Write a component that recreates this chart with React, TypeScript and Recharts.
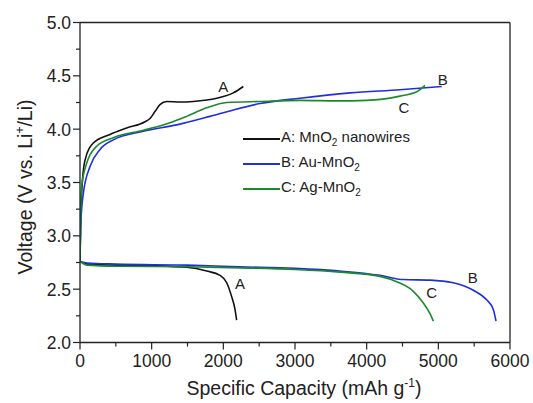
import { LineChart, Line, XAxis, YAxis, ReferenceLine, ReferenceDot } from "recharts";

// charge curves (upper branch)
const chargeCapA = [0, 10, 23, 70, 186, 419, 651, 907, 977, 1046, 1116, 1209, 1400, 1581, 1907, 2139, 2279];
const chargeVoltA = [2.76, 3.15, 3.4, 3.71, 3.87, 3.95, 4.01, 4.07, 4.1, 4.165, 4.23, 4.26, 4.255, 4.26, 4.29, 4.34, 4.4];
const chargeCapB = [0, 10, 47, 140, 279, 465, 884, 1349, 1814, 2139, 2512, 3070, 3767, 4465, 5047];
const chargeVoltB = [2.76, 3.1, 3.4, 3.65, 3.81, 3.9, 3.98, 4.04, 4.12, 4.18, 4.24, 4.29, 4.34, 4.37, 4.4];
const chargeCapC = [0, 8, 23, 93, 233, 465, 884, 1256, 1488, 1768, 2047, 2512, 3070, 3582, 4000, 4465, 4698, 4814];
const chargeVoltC = [2.76, 3.15, 3.46, 3.68, 3.84, 3.92, 3.99, 4.06, 4.12, 4.2, 4.25, 4.26, 4.27, 4.265, 4.27, 4.31, 4.35, 4.41];

// discharge curves (lower branch)
const dischCapA = [0, 100, 500, 1000, 1488, 1768, 1953, 2047, 2116, 2160, 2186];
const dischVoltA = [2.76, 2.735, 2.725, 2.72, 2.705, 2.67, 2.63, 2.56, 2.43, 2.32, 2.21];
const dischCapB = [0, 100, 500, 1500, 2233, 3000, 3628, 4186, 4512, 4884, 5209, 5488, 5674, 5767, 5805];
const dischVoltB = [2.76, 2.745, 2.735, 2.725, 2.71, 2.695, 2.67, 2.63, 2.59, 2.585, 2.56, 2.49, 2.4, 2.31, 2.2];
const dischCapC = [0, 100, 500, 1500, 2233, 3000, 3628, 4186, 4419, 4651, 4791, 4884, 4930];
const dischVoltC = [2.76, 2.725, 2.715, 2.71, 2.7, 2.685, 2.66, 2.62, 2.57, 2.48, 2.37, 2.27, 2.2];

const xTicks = [0, 500, 1000, 1500, 2000, 2500, 3000, 3500, 4000, 4500, 5000, 5500, 6000];
const yTicks = [2, 2.25, 2.5, 2.75, 3, 3.25, 3.5, 3.75, 4, 4.25, 4.5, 4.75, 5];

const curveLabels = [
  { text: "A", cap: 2000, volt: 4.4 },
  { text: "B", cap: 5060, volt: 4.46 },
  { text: "C", cap: 4520, volt: 4.2 },
  { text: "A", cap: 2232, volt: 2.55 },
  { text: "B", cap: 5480, volt: 2.61 },
  { text: "C", cap: 4907, volt: 2.47 },
];

const legendItems = [
  { name: "A: MnO", sub: "2", rest: " nanowires", color: "#111111" },
  { name: "B: Au-MnO", sub: "2", rest: "", color: "#1f2fe0" },
  { name: "C: Ag-MnO", sub: "2", rest: "", color: "#1c8a2a" },
];

const toRows = (caps: number[], volts: number[]) => caps.map((c, i) => ({ cap: c, v: volts[i] }));

const FONT = "Arial, 'Liberation Sans', sans-serif";
const AXIS = "#222";

const XTick = ({ x, y, payload }: any) => {
  const major = payload.value % 1000 === 0;
  return (
    <g>
      <line x1={x} x2={x} y1={y} y2={y + (major ? 7 : 4)} stroke={AXIS} strokeWidth={1.2} />
      {major && (
        <text x={x} y={y + 24} textAnchor="middle" fontSize={17.5} fill="#222" fontFamily={FONT}>
          {payload.value}
        </text>
      )}
    </g>
  );
};

const YTick = ({ x, y, payload }: any) => {
  const major = Math.abs(payload.value * 2 - Math.round(payload.value * 2)) < 1e-6;
  return (
    <g>
      <line x1={x - (major ? 7 : 4)} x2={x} y1={y} y2={y} stroke={AXIS} strokeWidth={1.2} />
      {major && (
        <text x={x - 9} y={y + 6.5} textAnchor="end" fontSize={17.5} fill="#222" fontFamily={FONT}>
          {payload.value.toFixed(1)}
        </text>
      )}
    </g>
  );
};

const series = [
  { key: "aC", data: toRows(chargeCapA, chargeVoltA), color: legendItems[0].color },
  { key: "aD", data: toRows(dischCapA, dischVoltA), color: legendItems[0].color },
  { key: "bC", data: toRows(chargeCapB, chargeVoltB), color: legendItems[1].color },
  { key: "bD", data: toRows(dischCapB, dischVoltB), color: legendItems[1].color },
  { key: "cC", data: toRows(chargeCapC, chargeVoltC), color: legendItems[2].color },
  { key: "cD", data: toRows(dischCapC, dischVoltC), color: legendItems[2].color },
];

export default function App() {
  return (
    <div style={{ position: "absolute", left: 0, top: 0, width: 533, height: 403, background: "#fff", fontFamily: FONT }}>
      <LineChart width={533} height={403} margin={{ top: 22.5, right: 23, bottom: 0, left: 0 }}>
        <XAxis
          type="number"
          dataKey="cap"
          domain={[0, 6000]}
          ticks={xTicks}
          interval={0}
          tickSize={0}
          tickMargin={0}
          tickLine={false}
          tick={<XTick />}
          height={60.5}
          stroke={AXIS}
          strokeWidth={1.3}
          allowDataOverflow
          label={{
            content: () => (
              <text x={304} y={395} textAnchor="middle" fontSize={19.5} fill="#222" fontFamily={FONT}>
                Specific Capacity (mAh g
                <tspan dy={-8} fontSize={12}>-1</tspan>
                <tspan dy={8}>)</tspan>
              </text>
            ),
          }}
        />
        <YAxis
          type="number"
          domain={[2, 5]}
          ticks={yTicks}
          interval={0}
          tickSize={0}
          tickMargin={0}
          tickLine={false}
          tick={<YTick />}
          width={80}
          stroke={AXIS}
          strokeWidth={1.3}
          allowDataOverflow
          label={{
            content: () => (
              <text transform="translate(32,187) rotate(-90)" textAnchor="middle" fontSize={19.5} fill="#222" fontFamily={FONT}>
                Voltage (V vs. Li
                <tspan dy={-8} fontSize={12}>+</tspan>
                <tspan dy={8}>/Li)</tspan>
              </text>
            ),
          }}
        />
        <ReferenceLine y={5} stroke={AXIS} strokeWidth={1.3} />
        <ReferenceLine x={6000} stroke={AXIS} strokeWidth={1.3} />
        {series.map((s) => (
          <Line
            key={s.key}
            data={s.data}
            dataKey="v"
            type="monotone"
            stroke={s.color}
            strokeWidth={1.6}
            dot={false}
            activeDot={false}
            isAnimationActive={false}
          />
        ))}
        {curveLabels.map((l, i) => (
          <ReferenceDot
            key={i}
            x={l.cap}
            y={l.volt}
            r={0}
            stroke="none"
            fill="none"
            label={{ value: l.text, position: "center", fontSize: 15, fill: "#222", fontFamily: FONT }}
          />
        ))}
      </LineChart>
      <div style={{ position: "absolute", left: 243, top: 126.5 }}>
        {legendItems.map((it) => (
          <div key={it.name} style={{ display: "flex", alignItems: "center", height: 25 }}>
            <span style={{ display: "inline-block", width: 37, height: 1.6, background: it.color }} />
            <span style={{ fontSize: 15, color: "#222", marginLeft: 1, whiteSpace: "nowrap", lineHeight: "25px" }}>
              {it.name}
              <sub style={{ fontSize: 10, verticalAlign: "-4px" }}>{it.sub}</sub>
              {it.rest}
            </span>
          </div>
        ))}
      </div>
    </div>
  );
}
